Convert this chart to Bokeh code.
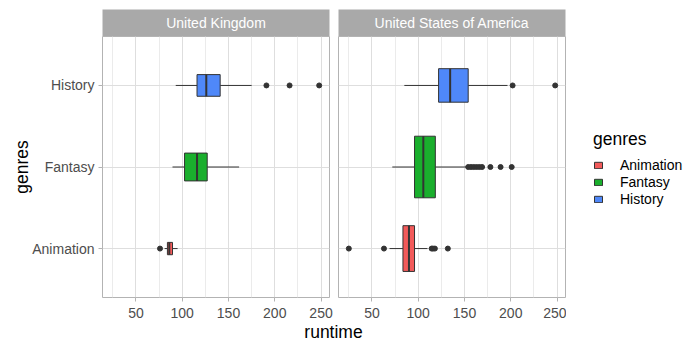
import math
from bokeh.plotting import figure
from bokeh.layouts import row, column
from bokeh.models import Range1d, FixedTicker, Legend, LegendItem, Label, ColumnDataSource
from bokeh.embed import file_html
from bokeh.resources import INLINE
from bokeh.core.properties import value

# ---------------- data ----------------
genres = ["Animation", "Fantasy", "History"]
countries = ["United Kingdom", "United States of America"]
genre_colors = ["#F25A5A", "#1AAF2D", "#4F88F9"]
x_ticks = [50, 100, 150, 200, 250]
x_minor = [25, 75, 125, 175, 225]

uk_n = [10, 51, 31]
uk_low = [81, 89.5, 93]
uk_q1 = [84, 102.5, 116]
uk_med = [86, 116, 126]
uk_q3 = [89.5, 127, 141]
uk_high = [95, 161.5, 175]
uk_out_genre = ["Animation", "History", "History", "History"]
uk_out_runtime = [76, 191, 216, 248]

us_n = [138, 250, 74]
us_low = [69, 72, 85]
us_q1 = [83.5, 96, 122]
us_med = [90, 105.5, 134.5]
us_q3 = [96, 118.5, 154]
us_high = [110, 151.5, 196.5]
us_out_genre = ["Animation"] * 6 + ["Fantasy"] * 9 + ["History"] * 2
us_out_runtime = [25, 63, 114.5, 116, 118, 132,
                  154, 157, 160, 163, 166, 169, 178, 189, 201,
                  202, 248]

# ---------------- style / layout ----------------
FONT = "Liberation Sans"
LEFT = 102
PANEL_W = 227
GAP_L = 4
GAP_R = 5
TOP = 9
STRIP_H = 27
PANEL_H = 261
BOTTOM = 25
ROW_H = TOP + STRIP_H + PANEL_H + BOTTOM
XLAB_H = 350 - ROW_H
LEG_W = 700 - (LEFT + PANEL_W + GAP_L) - (GAP_R + PANEL_W + 1)
MAX_BOX = 0.755
STRIP_FILL = "#A9A9A9"
BORDER = "#B3B3B3"
DARK = "#333333"

all_vals = uk_low + uk_high + uk_out_runtime + us_low + us_high + us_out_runtime
lo, hi = min(all_vals), max(all_vals)
pad = 0.05 * (hi - lo)
XMIN, XMAX = lo - pad, hi + pad
max_n = max(uk_n + us_n)


def make_strip(text, left, right):
    s = figure(width=left + PANEL_W + right, height=TOP + STRIP_H,
               x_range=Range1d(0, 1), y_range=Range1d(0, 1),
               output_backend="svg", toolbar_location=None,
               x_axis_location=None, y_axis_location=None,
               min_border_left=left, min_border_right=right,
               min_border_top=TOP, min_border_bottom=0)
    s.grid.visible = False
    s.outline_line_color = None
    s.background_fill_color = STRIP_FILL
    s.border_fill_color = "white"
    s.text(x=[0.5], y=[0.5], text=[text], text_align="center", text_baseline="middle",
           text_color="white", text_font=value(FONT), text_font_size="14px")
    return s


def make_panel(n, low, q1, med, q3, high, out_g, out_r, left, right, show_y):
    p = figure(width=left + PANEL_W + right, height=PANEL_H + BOTTOM,
               x_range=Range1d(XMIN, XMAX), y_range=Range1d(0.4, 3.6),
               output_backend="svg", toolbar_location=None,
               y_axis_location="left" if show_y else None,
               min_border_left=left, min_border_right=right,
               min_border_top=0, min_border_bottom=BOTTOM)
    p.background_fill_color = "white"
    p.border_fill_color = "white"
    p.outline_line_color = BORDER
    p.outline_line_width = 1

    xt = FixedTicker(ticks=x_ticks, minor_ticks=x_minor)
    p.xaxis.ticker = xt
    p.xgrid.ticker = xt
    p.xgrid.grid_line_color = "#DEDEDE"
    p.xgrid.grid_line_width = 1
    p.xgrid.minor_grid_line_color = "#EBEBEB"
    p.xgrid.minor_grid_line_width = 1
    p.xaxis.axis_line_color = None
    p.xaxis.major_tick_line_color = BORDER
    p.xaxis.major_tick_out = 4
    p.xaxis.major_tick_in = 0
    p.xaxis.minor_tick_line_color = None
    p.xaxis.major_label_text_font = FONT
    p.xaxis.major_label_text_font_size = "14px"
    p.xaxis.major_label_text_color = "#4D4D4D"
    p.xaxis.major_label_standoff = 6

    yt = FixedTicker(ticks=[1, 2, 3], minor_ticks=[])
    p.ygrid.ticker = yt
    p.ygrid.grid_line_color = "#DEDEDE"
    p.ygrid.grid_line_width = 1
    if show_y:
        p.yaxis.ticker = yt
        p.yaxis.major_label_overrides = {i + 1: g for i, g in enumerate(genres)}
        p.yaxis.axis_line_color = None
        p.yaxis.major_tick_line_color = BORDER
        p.yaxis.major_tick_out = 4
        p.yaxis.major_tick_in = 0
        p.yaxis.minor_tick_line_color = None
        p.yaxis.major_label_text_font = FONT
        p.yaxis.major_label_text_font_size = "14px"
        p.yaxis.major_label_text_color = "#4D4D4D"
        p.yaxis.major_label_standoff = 4
        p.yaxis.axis_label = "genres"
        p.yaxis.axis_label_text_font = FONT
        p.yaxis.axis_label_text_font_size = "17.5px"
        p.yaxis.axis_label_text_font_style = "normal"
        p.yaxis.axis_label_text_color = "black"
        p.yaxis.axis_label_standoff = -3

    ypos = [i + 1 for i in range(len(genres))]
    hts = [MAX_BOX * math.sqrt(k / max_n) for k in n]
    src = ColumnDataSource(dict(
        y=ypos, low=low, q1=q1, med=med, q3=q3, high=high,
        bottom=[y - h / 2 for y, h in zip(ypos, hts)],
        top=[y + h / 2 for y, h in zip(ypos, hts)],
        color=genre_colors))
    p.segment(x0="low", y0="y", x1="q1", y1="y", source=src, line_color=DARK, line_width=1)
    p.segment(x0="q3", y0="y", x1="high", y1="y", source=src, line_color=DARK, line_width=1)
    p.quad(left="q1", right="q3", bottom="bottom", top="top", source=src,
           fill_color="color", line_color=DARK, line_width=1)
    p.segment(x0="med", y0="bottom", x1="med", y1="top", source=src,
              line_color=DARK, line_width=2)
    out_y = [genres.index(g) + 1 for g in out_g]
    p.scatter(x=out_r, y=out_y, size=5, fill_color=DARK, line_color=DARK)
    return p


s1 = make_strip(countries[0], LEFT, GAP_L)
s2 = make_strip(countries[1], GAP_R, 1)
p1 = make_panel(uk_n, uk_low, uk_q1, uk_med, uk_q3, uk_high,
                uk_out_genre, uk_out_runtime, LEFT, GAP_L, True)
p2 = make_panel(us_n, us_low, us_q1, us_med, us_q3, us_high,
                us_out_genre, us_out_runtime, GAP_R, 1, False)

# legend panel: key glyphs live outside its visible range, only the legend shows
pl = figure(width=LEG_W, height=ROW_H, x_range=Range1d(0, 1), y_range=Range1d(0, 1),
            output_backend="svg", toolbar_location=None,
            x_axis_location=None, y_axis_location=None, min_border=0)
pl.grid.visible = False
pl.outline_line_color = None
key_src = ColumnDataSource(dict(left=[2] * 3, right=[3] * 3, bottom=[2] * 3, top=[3] * 3,
                                color=genre_colors))
keys = pl.quad(left="left", right="right", bottom="bottom", top="top", source=key_src,
               fill_color="color", line_color=DARK, line_width=1)
items = [LegendItem(label=g, renderers=[keys], index=i) for i, g in enumerate(genres)]
legend = Legend(items=items, title="genres", location=(27, 115),
                title_text_font=FONT, title_text_font_size="17.5px",
                title_text_font_style="normal", title_text_color="black",
                label_text_font=FONT, label_text_font_size="14px", label_text_color="black",
                glyph_width=10, glyph_height=8, label_height=17, spacing=0,
                padding=0, margin=0, border_line_color=None, background_fill_alpha=0,
                label_standoff=17, title_standoff=6)
pl.add_layout(legend)

px = figure(width=700, height=XLAB_H, x_range=Range1d(0, 1), y_range=Range1d(0, 1),
            output_backend="svg", toolbar_location=None,
            x_axis_location=None, y_axis_location=None, min_border=0)
px.grid.visible = False
px.outline_line_color = None
px.add_layout(Label(x=LEFT + PANEL_W + (GAP_L + GAP_R) / 2 - 0.5, y=XLAB_H - 9.5,
                    x_units="screen", y_units="screen", text="runtime",
                    text_align="center", text_baseline="middle",
                    text_font=FONT, text_font_size="17.5px", text_color="black"))

layout = column(row(column(s1, p1), column(s2, p2), pl), px)
open("out.html", "w").write(file_html(layout, INLINE))
